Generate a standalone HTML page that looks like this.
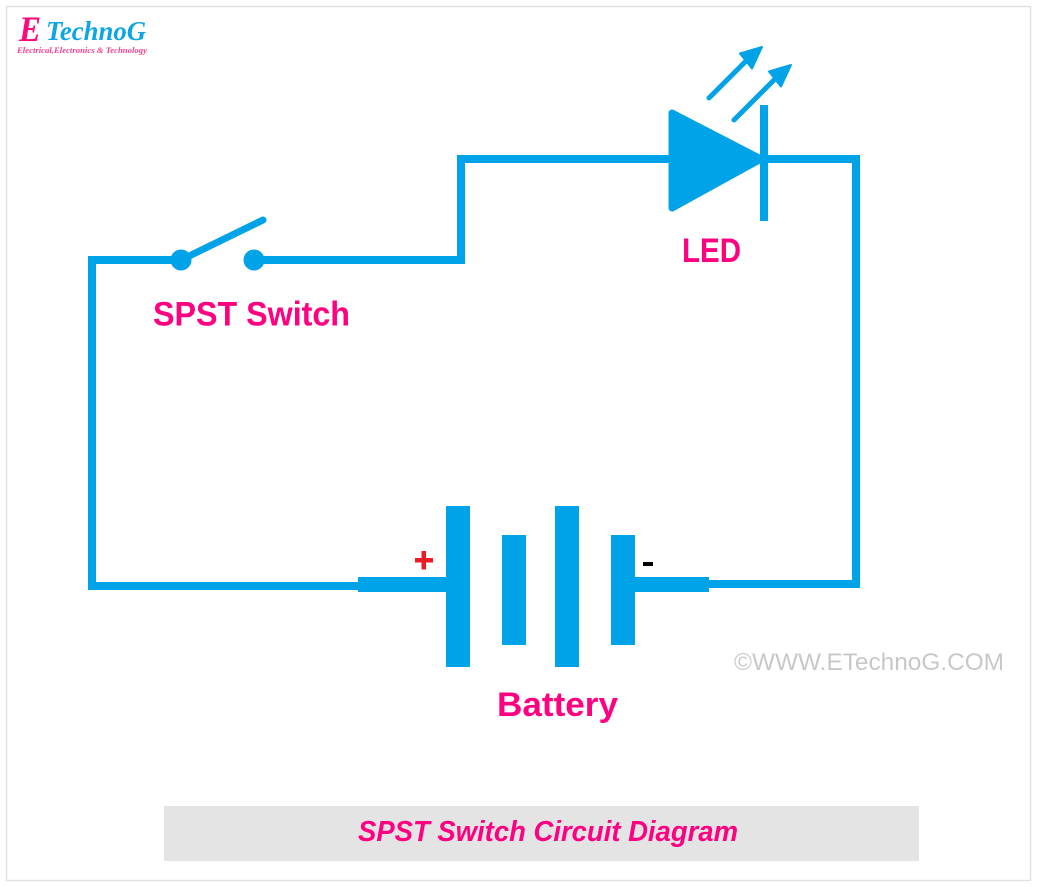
<!DOCTYPE html>
<html><head><meta charset="utf-8"><style>
html,body{margin:0;padding:0;background:#fff;width:1037px;height:887px;overflow:hidden}
svg{display:block}
text{font-family:"Liberation Sans",sans-serif}
</style></head><body>
<svg width="1037" height="887" viewBox="0 0 1037 887" xmlns="http://www.w3.org/2000/svg">
<rect width="1037" height="887" fill="#fff"/>
<rect x="6.5" y="6.5" width="1024" height="874" fill="#fff" stroke="#e2e2e2" stroke-width="1.5"/>
<g fill="#00a2e8" stroke="none">
<rect x="88" y="256" width="8" height="334"/>
<rect x="88" y="256" width="93" height="8"/>
<rect x="88" y="582" width="270" height="8"/>
<rect x="254" y="256" width="211" height="8"/>
<rect x="457" y="155" width="8" height="109"/>
<rect x="457" y="155" width="215" height="8"/>
<rect x="760" y="155" width="100" height="8"/>
<rect x="852" y="155" width="8" height="433"/>
<rect x="705" y="580" width="155" height="8"/>
<rect x="358" y="577" width="90" height="15"/>
<rect x="633" y="577" width="76" height="15"/>
<rect x="446" y="506" width="24" height="161"/>
<rect x="502" y="535" width="24" height="110"/>
<rect x="555" y="506" width="24" height="161"/>
<rect x="611" y="535" width="24" height="110"/>
<rect x="760" y="105" width="8" height="116"/>
<circle cx="181" cy="260" r="10.5"/>
<circle cx="254" cy="260" r="10.5"/>
<polygon points="672,113 761,159 672,208" stroke="#00a2e8" stroke-width="7" stroke-linejoin="round"/>
<polygon points="762,47 740,53.5 752,68.5" stroke="#00a2e8" stroke-width="2" stroke-linejoin="round"/>
<polygon points="791,65 769,71.5 781,86.5" stroke="#00a2e8" stroke-width="2" stroke-linejoin="round"/>
</g>
<g stroke="#00a2e8" fill="none" stroke-linecap="round">
<line x1="181" y1="260" x2="263" y2="220" stroke-width="7"/>
<line x1="709" y1="98" x2="750" y2="57" stroke-width="5"/>
<line x1="734" y1="120" x2="776" y2="78" stroke-width="5"/>
</g>
<rect x="164" y="806" width="755" height="55" fill="#e4e4e4"/>
<g fill="#ff0080" font-weight="bold" font-size="34">
<text x="153" y="325.5" textLength="197" lengthAdjust="spacingAndGlyphs">SPST Switch</text>
<text x="682" y="262" textLength="59" lengthAdjust="spacingAndGlyphs">LED</text>
<text x="497" y="716" textLength="121" lengthAdjust="spacingAndGlyphs">Battery</text>
<text x="358" y="841" font-size="29" font-style="italic" textLength="380" lengthAdjust="spacingAndGlyphs">SPST Switch Circuit Diagram</text>
</g>
<rect x="415" y="558" width="18" height="4.5" fill="#ed1c24"/>
<rect x="421.5" y="551" width="4.5" height="18.5" fill="#ed1c24"/>
<rect x="643" y="562" width="10" height="4" fill="#000"/>
<text x="734" y="670" font-size="24" fill="#c8c8c8" textLength="270" lengthAdjust="spacingAndGlyphs">©WWW.ETechnoG.COM</text>
<text x="19" y="41" style="font-family:'Liberation Serif',serif" font-size="36" font-weight="bold" font-style="italic" fill="#ff0a78" textLength="22" lengthAdjust="spacingAndGlyphs">E</text>
<text x="46" y="40" style="font-family:'Liberation Serif',serif" font-size="27" font-weight="bold" font-style="italic" fill="#0ea5e4" textLength="100" lengthAdjust="spacingAndGlyphs">TechnoG</text>
<text x="17" y="53" style="font-family:'Liberation Serif',serif" font-size="8.5" font-weight="bold" font-style="italic" fill="#f0408f" textLength="130" lengthAdjust="spacingAndGlyphs">Electrical,Electronics &amp; Technology</text>
</svg>
</body></html>
